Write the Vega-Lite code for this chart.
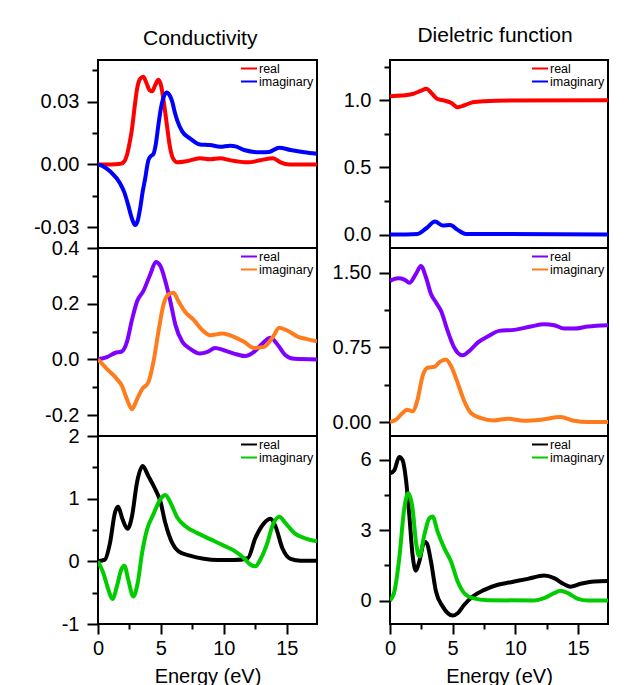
{
  "$schema": "https://vega.github.io/schema/vega-lite/v6.json",
  "padding": {"left": 32, "top": 24, "right": 0, "bottom": 0},
  "background": "white",
  "config": {
    "font": "Liberation Sans",
    "view": {"stroke": "black", "strokeWidth": 2},
    "axis": {"grid": false, "domain": false, "tickColor": "black", "tickWidth": 2, "labelFontSize": 20, "labelColor": "black", "labelFont": "Liberation Sans", "labelPadding": 8, "labelOverlap": false, "labelFlush": false, "titleFontSize": 20, "titleFontWeight": "normal", "titleColor": "black", "titleFont": "Liberation Sans"},
    "legend": {"labelFontSize": 12.5, "labelFont": "Liberation Sans", "labelColor": "black", "symbolType": "stroke", "symbolStrokeWidth": 2, "symbolSize": 256, "rowPadding": 0, "clipHeight": 11, "padding": 0, "offset": 3, "labelOffset": 1, "labelLimit": 200},
    "title": {"fontSize": 21, "fontWeight": "normal", "font": "Liberation Sans", "color": "black", "offset": 10, "anchor": "middle", "dx": 25}
  },
  "hconcat": [
    {
      "title": "Conductivity",
      "bounds": "flush",
      "spacing": 0,
      "resolve": {"scale": {"color": "independent"}, "legend": {"color": "independent"}},
      "vconcat": [
        {
          "width": 219, "height": 188,
          "data": {"values": [
            {"e":0,"v":0,"s":"real"},{"e":1.0,"v":0,"s":"real"},{"e":1.8,"v":0.0003,"s":"real"},{"e":2.1,"v":0.0015,"s":"real"},{"e":2.3,"v":0.0045,"s":"real"},{"e":2.5,"v":0.010,"s":"real"},{"e":2.7,"v":0.017,"s":"real"},{"e":2.9,"v":0.027,"s":"real"},{"e":3.1,"v":0.036,"s":"real"},{"e":3.35,"v":0.041,"s":"real"},{"e":3.6,"v":0.042,"s":"real"},{"e":3.85,"v":0.039,"s":"real"},{"e":4.1,"v":0.0355,"s":"real"},{"e":4.3,"v":0.035,"s":"real"},{"e":4.55,"v":0.038,"s":"real"},{"e":4.8,"v":0.0405,"s":"real"},{"e":5.0,"v":0.038,"s":"real"},{"e":5.2,"v":0.031,"s":"real"},{"e":5.45,"v":0.020,"s":"real"},{"e":5.7,"v":0.009,"s":"real"},{"e":5.95,"v":0.003,"s":"real"},{"e":6.3,"v":0.001,"s":"real"},{"e":7.0,"v":0.0015,"s":"real"},{"e":8.1,"v":0.003,"s":"real"},{"e":8.9,"v":0.0025,"s":"real"},{"e":9.7,"v":0.003,"s":"real"},{"e":10.5,"v":0.002,"s":"real"},{"e":11.9,"v":0.001,"s":"real"},{"e":12.9,"v":0.002,"s":"real"},{"e":13.9,"v":0.003,"s":"real"},{"e":14.5,"v":0.001,"s":"real"},{"e":15.2,"v":0,"s":"real"},{"e":17.4,"v":0,"s":"real"},
            {"e":0,"v":0,"s":"imaginary"},{"e":0.5,"v":-0.0012,"s":"imaginary"},{"e":1.0,"v":-0.0035,"s":"imaginary"},{"e":1.75,"v":-0.009,"s":"imaginary"},{"e":2.1,"v":-0.0135,"s":"imaginary"},{"e":2.4,"v":-0.0195,"s":"imaginary"},{"e":2.7,"v":-0.026,"s":"imaginary"},{"e":2.95,"v":-0.029,"s":"imaginary"},{"e":3.15,"v":-0.027,"s":"imaginary"},{"e":3.35,"v":-0.021,"s":"imaginary"},{"e":3.55,"v":-0.013,"s":"imaginary"},{"e":3.75,"v":-0.0067,"s":"imaginary"},{"e":3.9,"v":-0.001,"s":"imaginary"},{"e":4.0,"v":0.002,"s":"imaginary"},{"e":4.2,"v":0.004,"s":"imaginary"},{"e":4.4,"v":0.005,"s":"imaginary"},{"e":4.6,"v":0.010,"s":"imaginary"},{"e":4.8,"v":0.019,"s":"imaginary"},{"e":5.0,"v":0.027,"s":"imaginary"},{"e":5.2,"v":0.032,"s":"imaginary"},{"e":5.45,"v":0.0345,"s":"imaginary"},{"e":5.7,"v":0.033,"s":"imaginary"},{"e":5.9,"v":0.030,"s":"imaginary"},{"e":6.1,"v":0.025,"s":"imaginary"},{"e":6.3,"v":0.021,"s":"imaginary"},{"e":6.7,"v":0.0157,"s":"imaginary"},{"e":7.3,"v":0.0125,"s":"imaginary"},{"e":8.1,"v":0.0096,"s":"imaginary"},{"e":8.9,"v":0.0093,"s":"imaginary"},{"e":9.7,"v":0.0085,"s":"imaginary"},{"e":10.5,"v":0.009,"s":"imaginary"},{"e":11.0,"v":0.0085,"s":"imaginary"},{"e":11.6,"v":0.0069,"s":"imaginary"},{"e":12.9,"v":0.0058,"s":"imaginary"},{"e":13.6,"v":0.006,"s":"imaginary"},{"e":14.4,"v":0.008,"s":"imaginary"},{"e":15.3,"v":0.0069,"s":"imaginary"},{"e":16.4,"v":0.0058,"s":"imaginary"},{"e":17.4,"v":0.0051,"s":"imaginary"}
          ]},
          "mark": {"type": "line", "interpolate": "monotone", "strokeWidth": 4, "clip": true},
          "encoding": {
            "x": {"field": "e", "type": "quantitative", "scale": {"domain": [0, 17.4], "nice": false, "zero": false}, "axis": null},
            "y": {"field": "v", "type": "quantitative", "scale": {"domain": [-0.04, 0.05], "nice": false, "zero": false},
                  "axis": {"title": null, "values": [-0.03, -0.015, 0, 0.015, 0.03, 0.045],
                           "labelExpr": "datum.value == 0.03 ? '0.03' : datum.value == 0 ? '0.00' : datum.value == -0.03 ? '-0.03' : ''",
                           "tickSize": {"condition": {"test": "datum.value == 0.03 || datum.value == 0 || datum.value == -0.03", "value": 11}, "value": 6}}},
            "color": {"field": "s", "type": "nominal", "scale": {"domain": ["real", "imaginary"], "range": ["#ff0000", "#0000ff"]}, "legend": {"orient": "top-right", "title": null}}
          }
        },
        {
          "width": 219, "height": 188,
          "data": {"values": [
            {"e":0,"v":0,"s":"real"},{"e":0.7,"v":0.008,"s":"real"},{"e":1.35,"v":0.023,"s":"real"},{"e":1.9,"v":0.029,"s":"real"},{"e":2.3,"v":0.063,"s":"real"},{"e":2.7,"v":0.142,"s":"real"},{"e":3.1,"v":0.208,"s":"real"},{"e":3.6,"v":0.245,"s":"real"},{"e":4.15,"v":0.305,"s":"real"},{"e":4.6,"v":0.35,"s":"real"},{"e":4.95,"v":0.336,"s":"real"},{"e":5.35,"v":0.281,"s":"real"},{"e":5.75,"v":0.208,"s":"real"},{"e":6.15,"v":0.124,"s":"real"},{"e":6.7,"v":0.063,"s":"real"},{"e":7.3,"v":0.039,"s":"real"},{"e":8.1,"v":0.021,"s":"real"},{"e":8.7,"v":0.027,"s":"real"},{"e":9.3,"v":0.041,"s":"real"},{"e":10.0,"v":0.033,"s":"real"},{"e":10.8,"v":0.021,"s":"real"},{"e":11.7,"v":0.012,"s":"real"},{"e":12.4,"v":0.027,"s":"real"},{"e":13.2,"v":0.063,"s":"real"},{"e":13.7,"v":0.078,"s":"real"},{"e":14.3,"v":0.051,"s":"real"},{"e":14.9,"v":0.015,"s":"real"},{"e":15.6,"v":0.002,"s":"real"},{"e":17.4,"v":0,"s":"real"},
            {"e":0,"v":0,"s":"imaginary"},{"e":0.7,"v":-0.034,"s":"imaginary"},{"e":1.5,"v":-0.07,"s":"imaginary"},{"e":1.9,"v":-0.095,"s":"imaginary"},{"e":2.3,"v":-0.143,"s":"imaginary"},{"e":2.7,"v":-0.179,"s":"imaginary"},{"e":3.1,"v":-0.143,"s":"imaginary"},{"e":3.5,"v":-0.107,"s":"imaginary"},{"e":4.0,"v":-0.082,"s":"imaginary"},{"e":4.4,"v":-0.01,"s":"imaginary"},{"e":4.8,"v":0.099,"s":"imaginary"},{"e":5.2,"v":0.196,"s":"imaginary"},{"e":5.6,"v":0.233,"s":"imaginary"},{"e":6.0,"v":0.239,"s":"imaginary"},{"e":6.4,"v":0.208,"s":"imaginary"},{"e":6.9,"v":0.172,"s":"imaginary"},{"e":7.6,"v":0.142,"s":"imaginary"},{"e":8.3,"v":0.105,"s":"imaginary"},{"e":8.9,"v":0.087,"s":"imaginary"},{"e":9.9,"v":0.093,"s":"imaginary"},{"e":10.8,"v":0.081,"s":"imaginary"},{"e":11.6,"v":0.063,"s":"imaginary"},{"e":12.4,"v":0.041,"s":"imaginary"},{"e":13.2,"v":0.045,"s":"imaginary"},{"e":13.9,"v":0.081,"s":"imaginary"},{"e":14.4,"v":0.114,"s":"imaginary"},{"e":15.1,"v":0.102,"s":"imaginary"},{"e":15.9,"v":0.081,"s":"imaginary"},{"e":16.6,"v":0.073,"s":"imaginary"},{"e":17.4,"v":0.065,"s":"imaginary"}
          ]},
          "mark": {"type": "line", "interpolate": "monotone", "strokeWidth": 4, "clip": true},
          "encoding": {
            "x": {"field": "e", "type": "quantitative", "scale": {"domain": [0, 17.4], "nice": false, "zero": false}, "axis": null},
            "y": {"field": "v", "type": "quantitative", "scale": {"domain": [-0.275, 0.4], "nice": false, "zero": false},
                  "axis": {"title": null, "values": [-0.2, -0.1, 0, 0.1, 0.2, 0.3, 0.4],
                           "labelExpr": "datum.value == 0.4 ? '0.4' : datum.value == 0.2 ? '0.2' : datum.value == 0 ? '0.0' : datum.value == -0.2 ? '-0.2' : ''",
                           "tickSize": {"condition": {"test": "datum.value == 0.4 || datum.value == 0.2 || datum.value == 0 || datum.value == -0.2", "value": 11}, "value": 6}}},
            "color": {"field": "s", "type": "nominal", "scale": {"domain": ["real", "imaginary"], "range": ["#7f00ff", "#ff7c1c"]}, "legend": {"orient": "top-right", "title": null}}
          }
        },
        {
          "width": 219, "height": 188,
          "data": {"values": [
            {"e":0,"v":0,"s":"real"},{"e":0.55,"v":0.027,"s":"real"},{"e":0.95,"v":0.29,"s":"real"},{"e":1.35,"v":0.78,"s":"real"},{"e":1.6,"v":0.87,"s":"real"},{"e":1.95,"v":0.67,"s":"real"},{"e":2.35,"v":0.52,"s":"real"},{"e":2.7,"v":0.72,"s":"real"},{"e":3.1,"v":1.26,"s":"real"},{"e":3.55,"v":1.52,"s":"real"},{"e":4.0,"v":1.36,"s":"real"},{"e":4.55,"v":1.15,"s":"real"},{"e":4.95,"v":0.96,"s":"real"},{"e":5.35,"v":0.61,"s":"real"},{"e":5.9,"v":0.29,"s":"real"},{"e":6.4,"v":0.16,"s":"real"},{"e":7.3,"v":0.09,"s":"real"},{"e":8.4,"v":0.04,"s":"real"},{"e":9.5,"v":0.02,"s":"real"},{"e":10.8,"v":0.02,"s":"real"},{"e":11.9,"v":0.05,"s":"real"},{"e":12.5,"v":0.37,"s":"real"},{"e":13.2,"v":0.61,"s":"real"},{"e":13.7,"v":0.68,"s":"real"},{"e":14.1,"v":0.56,"s":"real"},{"e":14.65,"v":0.21,"s":"real"},{"e":15.3,"v":0.04,"s":"real"},{"e":16.1,"v":0.01,"s":"real"},{"e":17.4,"v":0.01,"s":"real"},
            {"e":0,"v":0,"s":"imaginary"},{"e":0.43,"v":-0.19,"s":"imaginary"},{"e":0.82,"v":-0.45,"s":"imaginary"},{"e":1.15,"v":-0.6,"s":"imaginary"},{"e":1.5,"v":-0.4,"s":"imaginary"},{"e":1.85,"v":-0.13,"s":"imaginary"},{"e":2.1,"v":-0.07,"s":"imaginary"},{"e":2.4,"v":-0.29,"s":"imaginary"},{"e":2.8,"v":-0.56,"s":"imaginary"},{"e":3.15,"v":-0.35,"s":"imaginary"},{"e":3.5,"v":0.13,"s":"imaginary"},{"e":3.9,"v":0.51,"s":"imaginary"},{"e":4.4,"v":0.75,"s":"imaginary"},{"e":4.95,"v":0.99,"s":"imaginary"},{"e":5.35,"v":1.06,"s":"imaginary"},{"e":5.75,"v":0.94,"s":"imaginary"},{"e":6.3,"v":0.70,"s":"imaginary"},{"e":6.95,"v":0.56,"s":"imaginary"},{"e":7.9,"v":0.45,"s":"imaginary"},{"e":8.95,"v":0.35,"s":"imaginary"},{"e":10.0,"v":0.25,"s":"imaginary"},{"e":10.9,"v":0.16,"s":"imaginary"},{"e":11.6,"v":0.05,"s":"imaginary"},{"e":12.1,"v":-0.05,"s":"imaginary"},{"e":12.5,"v":-0.08,"s":"imaginary"},{"e":12.9,"v":0.03,"s":"imaginary"},{"e":13.45,"v":0.29,"s":"imaginary"},{"e":13.85,"v":0.56,"s":"imaginary"},{"e":14.4,"v":0.71,"s":"imaginary"},{"e":14.9,"v":0.61,"s":"imaginary"},{"e":15.6,"v":0.45,"s":"imaginary"},{"e":16.4,"v":0.37,"s":"imaginary"},{"e":17.4,"v":0.32,"s":"imaginary"}
          ]},
          "mark": {"type": "line", "interpolate": "monotone", "strokeWidth": 4, "clip": true},
          "encoding": {
            "x": {"field": "e", "type": "quantitative", "scale": {"domain": [0, 17.4], "nice": false, "zero": false},
                  "axis": {"title": "Energy (eV)", "values": [0, 2.5, 5, 7.5, 10, 12.5, 15], "labelPadding": 4, "titlePadding": 8,
                           "labelExpr": "datum.value == 0 ? '0' : datum.value == 5 ? '5' : datum.value == 10 ? '10' : datum.value == 15 ? '15' : ''",
                           "tickSize": {"condition": {"test": "datum.value == 0 || datum.value == 5 || datum.value == 10 || datum.value == 15", "value": 10}, "value": 5}}},
            "y": {"field": "v", "type": "quantitative", "scale": {"domain": [-1, 2], "nice": false, "zero": false},
                  "axis": {"title": null, "values": [-1, -0.5, 0, 0.5, 1, 1.5, 2],
                           "labelExpr": "datum.value == 2 ? '2' : datum.value == 1 ? '1' : datum.value == 0 ? '0' : datum.value == -1 ? '-1' : ''",
                           "tickSize": {"condition": {"test": "datum.value == 2 || datum.value == 1 || datum.value == 0 || datum.value == -1", "value": 11}, "value": 6}}},
            "color": {"field": "s", "type": "nominal", "scale": {"domain": ["real", "imaginary"], "range": ["#000000", "#00cc00"]}, "legend": {"orient": "top-right", "title": null}}
          }
        }
      ]
    },
    {
      "title": "Dieletric function",
      "bounds": "flush",
      "spacing": 0,
      "resolve": {"scale": {"color": "independent"}, "legend": {"color": "independent"}},
      "vconcat": [
        {
          "width": 218, "height": 188,
          "data": {"values": [
            {"e":0,"v":1.03,"s":"real"},{"e":0.9,"v":1.035,"s":"real"},{"e":1.8,"v":1.047,"s":"real"},{"e":2.5,"v":1.072,"s":"real"},{"e":2.9,"v":1.085,"s":"real"},{"e":3.3,"v":1.055,"s":"real"},{"e":3.75,"v":1.012,"s":"real"},{"e":4.35,"v":0.998,"s":"real"},{"e":4.9,"v":0.98,"s":"real"},{"e":5.4,"v":0.948,"s":"real"},{"e":5.95,"v":0.963,"s":"real"},{"e":6.6,"v":0.985,"s":"real"},{"e":7.5,"v":0.993,"s":"real"},{"e":9.65,"v":0.998,"s":"real"},{"e":17.4,"v":1.0,"s":"real"},
            {"e":0,"v":0,"s":"imaginary"},{"e":2.2,"v":0.005,"s":"imaginary"},{"e":2.9,"v":0.047,"s":"imaginary"},{"e":3.6,"v":0.097,"s":"imaginary"},{"e":4.2,"v":0.067,"s":"imaginary"},{"e":4.8,"v":0.072,"s":"imaginary"},{"e":5.4,"v":0.035,"s":"imaginary"},{"e":6.05,"v":0.005,"s":"imaginary"},{"e":17.4,"v":0,"s":"imaginary"}
          ]},
          "mark": {"type": "line", "interpolate": "monotone", "strokeWidth": 4, "clip": true},
          "encoding": {
            "x": {"field": "e", "type": "quantitative", "scale": {"domain": [0, 17.4], "nice": false, "zero": false}, "axis": null},
            "y": {"field": "v", "type": "quantitative", "scale": {"domain": [-0.1, 1.3], "nice": false, "zero": false},
                  "axis": {"title": null, "values": [0, 0.25, 0.5, 0.75, 1, 1.25],
                           "labelExpr": "datum.value == 1 ? '1.0' : datum.value == 0.5 ? '0.5' : datum.value == 0 ? '0.0' : ''",
                           "tickSize": {"condition": {"test": "datum.value == 1 || datum.value == 0.5 || datum.value == 0", "value": 11}, "value": 6}}},
            "color": {"field": "s", "type": "nominal", "scale": {"domain": ["real", "imaginary"], "range": ["#ff0000", "#0000ff"]}, "legend": {"orient": "top-right", "title": null}}
          }
        },
        {
          "width": 218, "height": 188,
          "data": {"values": [
            {"e":0,"v":1.42,"s":"real"},{"e":0.66,"v":1.446,"s":"real"},{"e":1.15,"v":1.433,"s":"real"},{"e":1.55,"v":1.40,"s":"real"},{"e":2.07,"v":1.49,"s":"real"},{"e":2.47,"v":1.57,"s":"real"},{"e":2.87,"v":1.456,"s":"real"},{"e":3.27,"v":1.288,"s":"real"},{"e":3.67,"v":1.203,"s":"real"},{"e":4.07,"v":1.119,"s":"real"},{"e":4.6,"v":0.917,"s":"real"},{"e":5.13,"v":0.748,"s":"real"},{"e":5.8,"v":0.671,"s":"real"},{"e":6.33,"v":0.715,"s":"real"},{"e":7.0,"v":0.799,"s":"real"},{"e":7.8,"v":0.86,"s":"real"},{"e":8.72,"v":0.917,"s":"real"},{"e":9.9,"v":0.927,"s":"real"},{"e":11.25,"v":0.961,"s":"real"},{"e":12.3,"v":0.984,"s":"real"},{"e":13.1,"v":0.974,"s":"real"},{"e":13.9,"v":0.94,"s":"real"},{"e":14.7,"v":0.94,"s":"real"},{"e":15.8,"v":0.961,"s":"real"},{"e":17.4,"v":0.974,"s":"real"},
            {"e":0,"v":0,"s":"imaginary"},{"e":0.48,"v":0.024,"s":"imaginary"},{"e":1.0,"v":0.091,"s":"imaginary"},{"e":1.35,"v":0.125,"s":"imaginary"},{"e":1.8,"v":0.108,"s":"imaginary"},{"e":2.2,"v":0.226,"s":"imaginary"},{"e":2.6,"v":0.462,"s":"imaginary"},{"e":3.0,"v":0.546,"s":"imaginary"},{"e":3.55,"v":0.556,"s":"imaginary"},{"e":3.95,"v":0.603,"s":"imaginary"},{"e":4.47,"v":0.63,"s":"imaginary"},{"e":4.87,"v":0.563,"s":"imaginary"},{"e":5.4,"v":0.394,"s":"imaginary"},{"e":5.93,"v":0.209,"s":"imaginary"},{"e":6.46,"v":0.091,"s":"imaginary"},{"e":7.26,"v":0.04,"s":"imaginary"},{"e":8.3,"v":0.017,"s":"imaginary"},{"e":9.4,"v":0.034,"s":"imaginary"},{"e":10.7,"v":0.013,"s":"imaginary"},{"e":12.05,"v":0.024,"s":"imaginary"},{"e":13.6,"v":0.05,"s":"imaginary"},{"e":14.7,"v":0.013,"s":"imaginary"},{"e":15.8,"v":0,"s":"imaginary"},{"e":17.4,"v":0,"s":"imaginary"}
          ]},
          "mark": {"type": "line", "interpolate": "monotone", "strokeWidth": 4, "clip": true},
          "encoding": {
            "x": {"field": "e", "type": "quantitative", "scale": {"domain": [0, 17.4], "nice": false, "zero": false}, "axis": null},
            "y": {"field": "v", "type": "quantitative", "scale": {"domain": [-0.14, 1.75], "nice": false, "zero": false},
                  "axis": {"title": null, "values": [0, 0.375, 0.75, 1.125, 1.5],
                           "labelExpr": "datum.value == 1.5 ? '1.50' : datum.value == 0.75 ? '0.75' : datum.value == 0 ? '0.00' : ''",
                           "tickSize": {"condition": {"test": "datum.value == 1.5 || datum.value == 0.75 || datum.value == 0", "value": 11}, "value": 6}}},
            "color": {"field": "s", "type": "nominal", "scale": {"domain": ["real", "imaginary"], "range": ["#7f00ff", "#ff7c1c"]}, "legend": {"orient": "top-right", "title": null}}
          }
        },
        {
          "width": 218, "height": 188,
          "data": {"values": [
            {"e":0,"v":5.41,"s":"real"},{"e":0.35,"v":5.55,"s":"real"},{"e":0.74,"v":6.11,"s":"real"},{"e":1.0,"v":5.97,"s":"real"},{"e":1.28,"v":5.12,"s":"real"},{"e":1.54,"v":3.64,"s":"real"},{"e":1.8,"v":1.94,"s":"real"},{"e":2.07,"v":1.27,"s":"real"},{"e":2.34,"v":1.66,"s":"real"},{"e":2.74,"v":2.5,"s":"real"},{"e":2.95,"v":2.43,"s":"real"},{"e":3.27,"v":1.66,"s":"real"},{"e":3.67,"v":0.38,"s":"real"},{"e":4.2,"v":-0.25,"s":"real"},{"e":5.0,"v":-0.64,"s":"real"},{"e":5.4,"v":-0.54,"s":"real"},{"e":5.93,"v":-0.18,"s":"real"},{"e":6.6,"v":0.17,"s":"real"},{"e":7.53,"v":0.45,"s":"real"},{"e":8.6,"v":0.67,"s":"real"},{"e":9.65,"v":0.78,"s":"real"},{"e":11.0,"v":0.92,"s":"real"},{"e":12.3,"v":1.06,"s":"real"},{"e":13.1,"v":0.95,"s":"real"},{"e":13.9,"v":0.69,"s":"real"},{"e":14.4,"v":0.59,"s":"real"},{"e":15.2,"v":0.71,"s":"real"},{"e":16.3,"v":0.81,"s":"real"},{"e":17.4,"v":0.83,"s":"real"},
            {"e":0,"v":0,"s":"imaginary"},{"e":0.35,"v":0.38,"s":"imaginary"},{"e":0.74,"v":1.8,"s":"imaginary"},{"e":1.14,"v":3.92,"s":"imaginary"},{"e":1.46,"v":4.56,"s":"imaginary"},{"e":1.8,"v":3.92,"s":"imaginary"},{"e":2.07,"v":2.5,"s":"imaginary"},{"e":2.34,"v":1.87,"s":"imaginary"},{"e":2.74,"v":2.79,"s":"imaginary"},{"e":3.14,"v":3.5,"s":"imaginary"},{"e":3.4,"v":3.57,"s":"imaginary"},{"e":3.8,"v":2.93,"s":"imaginary"},{"e":4.34,"v":2.22,"s":"imaginary"},{"e":4.87,"v":1.66,"s":"imaginary"},{"e":5.4,"v":0.81,"s":"imaginary"},{"e":5.93,"v":0.31,"s":"imaginary"},{"e":6.6,"v":0.10,"s":"imaginary"},{"e":7.8,"v":0.01,"s":"imaginary"},{"e":11.5,"v":0,"s":"imaginary"},{"e":12.3,"v":0.10,"s":"imaginary"},{"e":13.1,"v":0.31,"s":"imaginary"},{"e":13.6,"v":0.41,"s":"imaginary"},{"e":14.2,"v":0.31,"s":"imaginary"},{"e":15.0,"v":0.07,"s":"imaginary"},{"e":15.8,"v":0,"s":"imaginary"},{"e":17.4,"v":0,"s":"imaginary"}
          ]},
          "mark": {"type": "line", "interpolate": "monotone", "strokeWidth": 4, "clip": true},
          "encoding": {
            "x": {"field": "e", "type": "quantitative", "scale": {"domain": [0, 17.4], "nice": false, "zero": false},
                  "axis": {"title": "Energy (eV)", "values": [0, 2.5, 5, 7.5, 10, 12.5, 15], "labelPadding": 4, "titlePadding": 8,
                           "labelExpr": "datum.value == 0 ? '0' : datum.value == 5 ? '5' : datum.value == 10 ? '10' : datum.value == 15 ? '15' : ''",
                           "tickSize": {"condition": {"test": "datum.value == 0 || datum.value == 5 || datum.value == 10 || datum.value == 15", "value": 10}, "value": 5}}},
            "y": {"field": "v", "type": "quantitative", "scale": {"domain": [-1, 7], "nice": false, "zero": false},
                  "axis": {"title": null, "values": [0, 1.5, 3, 4.5, 6],
                           "labelExpr": "datum.value == 6 ? '6' : datum.value == 3 ? '3' : datum.value == 0 ? '0' : ''",
                           "tickSize": {"condition": {"test": "datum.value == 6 || datum.value == 3 || datum.value == 0", "value": 11}, "value": 6}}},
            "color": {"field": "s", "type": "nominal", "scale": {"domain": ["real", "imaginary"], "range": ["#000000", "#00cc00"]}, "legend": {"orient": "top-right", "title": null}}
          }
        }
      ]
    }
  ],
  "spacing": 13,
  "resolve": {"scale": {"color": "independent"}, "legend": {"color": "independent"}}
}
